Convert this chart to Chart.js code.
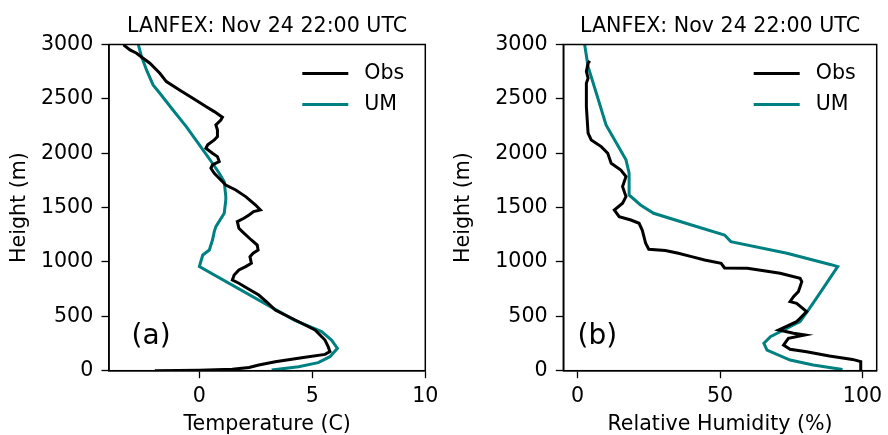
<!DOCTYPE html>
<html>
<head>
<meta charset="utf-8">
<script src="https://cdn.jsdelivr.net/npm/chart.js@4.4.0/dist/chart.umd.min.js"></script>
<style>
  html, body { margin: 0; padding: 0; background: #fff; }
  #wrap { position: relative; width: 888px; height: 435px; }
  .panel { position: absolute; top: 0; width: 444px; height: 435px; }
</style>
</head>
<body>
<div id="wrap">
  <div class="panel" style="left:0"><canvas id="tempChart" width="444" height="435"></canvas></div>
  <div class="panel" style="left:444px"><canvas id="rhChart" width="444" height="435"></canvas></div>
</div>
<script>
// ========================================
// DATA
// ========================================
const seriesNames = ['Obs', 'UM'];
const plotTitle = 'LANFEX: Nov 24 22:00 UTC';
const heightTicks = [0, 500, 1000, 1500, 2000, 2500, 3000];
const tempTicks = [0, 5, 10];
const rhTicks = [0, 50, 100];

// temperature (C) against height (m)
const obsTempHeight = [0, 4, 13, 30, 52, 83, 120, 150, 175, 221, 282, 374, 466, 558, 629, 696, 760, 804, 834, 880,
  926, 957, 988, 1049, 1080, 1110, 1156, 1202, 1279, 1310, 1371, 1402, 1432, 1463, 1478, 1524, 1601, 1662, 1708, 1754,
  1816, 1862, 1893, 1923, 1969, 2000, 2046, 2077, 2122, 2153, 2214, 2260, 2306, 2331, 2383, 2429, 2506, 2582, 2659, 2736,
  2828, 2874, 2920, 2950, 2997];
const obsTemp = [-1.97, 0, 1.46, 2.2, 2.63, 3.36, 4.53, 5.56, 5.78, 5.7, 5.56, 5.12, 4.24, 3.36, 3.0, 2.63, 2.1, 1.75, 1.46, 1.54,
  1.75, 2.05, 2.3, 2.24, 2.38, 2.6, 2.56, 2.3, 1.9, 1.75, 1.68, 1.97, 2.2, 2.4, 2.7, 2.49, 2.05, 1.61, 1.17, 0.95,
  0.66, 0.51, 0.58, 0.88, 0.8, 0.58, 0.29, 0.37, 0.66, 0.8, 0.8, 0.73, 0.95, 1.02, 0.66, 0.29, -0.29, -0.88, -1.46, -1.75,
  -2.19, -2.49, -2.78, -3.07, -3.36];

const umTempHeight = [6, 37, 74, 129, 206, 282, 359, 466, 957, 1064, 1110, 1202, 1279, 1325, 1448, 1570, 1601, 1739,
  1816, 1908, 2076, 2245, 2398, 2552, 2628, 2766, 2889, 2997];
const umTemp = [3.2, 4.39, 5.26, 5.78, 6.11, 5.85, 5.41, 4.2, 0.0, 0.15, 0.44, 0.58, 0.66, 0.73, 1.1, 1.17, 1.17, 1.1,
  0.88, 0.58, 0.0, -0.58, -1.17, -1.75, -2.05, -2.34, -2.56, -2.7];

// relative humidity (%) against height (m)
const obsRhHeight = [6, 83, 104, 135, 175, 197, 236, 298, 328, 344, 374, 451, 482, 543, 620, 635, 681, 727, 773, 819,
  850, 896, 920, 942, 945, 988, 1018, 1049, 1080, 1105, 1117, 1172, 1233, 1294, 1356, 1386, 1417, 1478, 1540, 1601,
  1693, 1785, 1846, 1908, 2000, 2061, 2122, 2184, 2429, 2644, 2690, 2751, 2828, 2850];
const obsRh = [99.4, 99.4, 96.5, 88.4, 80.4, 74.6, 72.3, 74, 79.8, 75.8, 70.6, 76.9, 78.1, 80.4, 76.9, 74.6, 75.8, 77.5, 78.1, 78.7,
  78.1, 71.1, 65.4, 59.6, 51.6, 50.4, 44.6, 40, 35.4, 30.8, 25, 23.9, 23.3, 22.7, 21.6, 18.7, 14.6, 12.9, 15.8, 17,
  15.8, 17, 15.2, 11.8, 10.6, 8.3, 4.8, 3.7, 3.1, 3.1, 3.7, 3.1, 3.7, 4.3];

const umRhHeight = [12, 52, 98, 190, 252, 313, 374, 451, 558, 712, 957, 975, 1080, 1187, 1248, 1340, 1448, 1524, 1616,
  1816, 1939, 2260, 2552, 2797, 2997];
const umRh = [93, 82.7, 74.6, 66.5, 65.4, 67.7, 72.3, 78.1, 81, 85, 91.3, 89, 73.5, 53.8, 51.6, 40, 26.7, 22.1, 18.1,
  18.1, 17, 10, 6.6, 3.7, 2.5];

// ========================================
// STYLE
// ========================================
const FONT = '"DejaVu Sans", sans-serif';
const FS = 20.6;
const seriesColors = ['#000000', '#008080'];

function toPoints(heights, values) {
  return heights.map((h, i) => ({ x: values[i], y: h }));
}

function makeDataset(i, heights, values) {
  return {
    label: seriesNames[i],
    data: toPoints(heights, values),
    showLine: true,
    borderColor: seriesColors[i],
    backgroundColor: seriesColors[i],
    borderWidth: 3,
    pointRadius: 0,
    tension: 0
  };
}

// frame, title, legend and panel letter
const panelDecor = {
  id: 'panelDecor',
  afterDraw(chart, args, opts) {
    const ctx = chart.ctx;
    const a = chart.chartArea;
    ctx.save();

    ctx.strokeStyle = '#000';
    ctx.lineWidth = 1.5;
    ctx.strokeRect(a.left, a.top, a.right - a.left, a.bottom - a.top);

    ctx.fillStyle = '#000';
    ctx.font = FS + 'px ' + FONT;
    ctx.textAlign = 'center';
    ctx.textBaseline = 'alphabetic';
    ctx.fillText(plotTitle, (a.left + a.right) / 2, a.top - 12.2);

    // legend
    chart.data.datasets.forEach((ds, i) => {
      const y = a.top + 29 + i * 31;
      ctx.strokeStyle = ds.borderColor;
      ctx.lineWidth = 3;
      ctx.beginPath();
      ctx.moveTo(a.right - 123, y);
      ctx.lineTo(a.right - 77, y);
      ctx.stroke();
      ctx.fillStyle = '#000';
      ctx.textAlign = 'left';
      ctx.textBaseline = 'middle';
      ctx.fillText(ds.label, a.right - 61, y);
    });

    // (a) / (b)
    ctx.font = '28px ' + FONT;
    ctx.textAlign = 'left';
    ctx.textBaseline = 'alphabetic';
    ctx.fillText(opts.letter, chart.scales.x.getPixelForValue(opts.letterX), chart.scales.y.getPixelForValue(250));

    ctx.restore();
  }
};

function axisX(min, max, ticks, label) {
  return {
    type: 'linear',
    min: min,
    max: max,
    afterBuildTicks: s => { s.ticks = ticks.map(v => ({ value: v })); },
    afterFit: s => { s.height = 64.3; },
    grid: { drawOnChartArea: false, drawTicks: true, tickLength: 7.5, tickWidth: 1.3, tickColor: '#000' },
    border: { display: true, color: '#000', width: 1.5 },
    ticks: { color: '#000', font: { family: FONT, size: FS }, padding: 5.6, maxRotation: 0, autoSkip: false,
      callback: v => String(v) },
    title: { display: true, text: label, color: '#000', font: { family: FONT, size: FS, lineHeight: 1 }, padding: 0 }
  };
}

function axisY(width) {
  return {
    type: 'linear',
    min: 0,
    max: 3000,
    afterBuildTicks: s => { s.ticks = heightTicks.map(v => ({ value: v })); },
    afterFit: s => { s.width = width; },
    grid: { drawOnChartArea: false, drawTicks: true, tickLength: 7.5, tickWidth: 1.3, tickColor: '#000' },
    border: { display: true, color: '#000', width: 1.5 },
    ticks: { color: '#000', font: { family: FONT, size: FS }, padding: 8.2, autoSkip: false,
      callback: v => String(v) },
    title: { display: true, text: 'Height (m)', color: '#000', font: { family: FONT, size: FS, lineHeight: 1.2 }, padding: { top: 7.6, bottom: 0 } }
  };
}

function makeChart(id, datasets, xAxis, yWidth, rightPad, letter, letterX) {
  return new Chart(document.getElementById(id), {
    type: 'scatter',
    data: { datasets: datasets },
    options: {
      responsive: false,
      animation: false,
      devicePixelRatio: 1,
      layout: { padding: { top: 44.5, right: rightPad, left: 0, bottom: 0 } },
      plugins: {
        legend: { display: false },
        tooltip: { enabled: false },
        title: { display: false },
        panelDecor: { letter: letter, letterX: letterX }
      },
      scales: { x: xAxis, y: axisY(yWidth) }
    },
    plugins: [panelDecor]
  });
}

// ========================================
// CHARTS
// ========================================
makeChart('tempChart',
  [makeDataset(0, obsTempHeight, obsTemp), makeDataset(1, umTempHeight, umTemp)],
  axisX(-4, 10, tempTicks, 'Temperature (C)'), 109, 16, '(a)', -3);

makeChart('rhChart',
  [makeDataset(0, obsRhHeight, obsRh), makeDataset(1, umRhHeight, umRh)],
  axisX(-5, 105, rhTicks, 'Relative Humidity (%)'), 119.3, 6.3, '(b)', 0);
</script>
</body>
</html>
